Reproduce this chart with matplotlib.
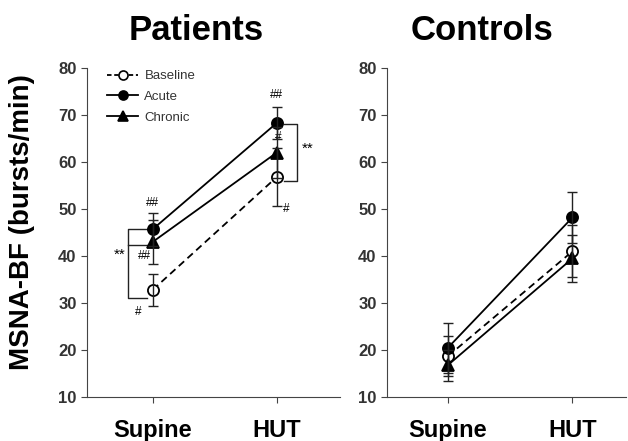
import numpy as np
import matplotlib
matplotlib.use("Agg")
import matplotlib.pyplot as plt
from matplotlib.lines import Line2D

plt.rcParams['font.family'] = ['Liberation Sans', 'DejaVu Sans']

conditions = ['Supine', 'HUT']
series = ['Baseline', 'Acute', 'Chronic']

# Patients
pat_mean = {'Baseline': [32.8, 56.8], 'Acute': [45.7, 68.3], 'Chronic': [43.0, 62.0]}
pat_err = {'Baseline': [3.4, 6.1], 'Acute': [3.5, 3.3], 'Chronic': [4.7, 5.5]}
# Controls
con_mean = {'Baseline': [18.7, 41.0], 'Acute': [20.5, 48.2], 'Chronic': [16.8, 39.5]}
con_err = {'Baseline': [4.3, 5.5], 'Acute': [5.3, 5.4], 'Chronic': [3.3, 5.0]}

styles = {
    'Baseline': dict(marker='o', mfc='white', ls='--'),
    'Acute': dict(marker='o', mfc='black', ls='-'),
    'Chronic': dict(marker='^', mfc='black', ls='-'),
}

fig = plt.figure(figsize=(6.28, 4.41), dpi=100)
ax1 = fig.add_axes([87/628, 1-397/441, (340-87)/628, (397-68)/441])
ax2 = fig.add_axes([387/628, 1-397/441, (626-387)/628, (397-68)/441])

x = np.array([1, 2])
for ax, means, errs, xl in [(ax1, pat_mean, pat_err, (0.47, 2.51)),
                            (ax2, con_mean, con_err, (0.51, 2.43))]:
    for s in series:
        st = styles[s]
        ln, = ax.plot(x, means[s], color='black', ls=st['ls'], marker=st['marker'],
                      mfc=st['mfc'], mec='black', ms=8, mew=1.3, lw=1.3, zorder=3)
        if st['ls'] == '--':
            ln.set_dashes((4, 2.5))
        ax.errorbar(x, means[s], yerr=errs[s], fmt='none', ecolor='#222222',
                    elinewidth=1, capsize=3.5, capthick=1, zorder=4)
    ax.set_xlim(*xl)
    ax.set_ylim(10, 80)
    ax.set_yticks(range(10, 81, 10))
    ax.set_xticks(x)
    ax.set_xticklabels(conditions, fontsize=17, fontweight='bold')
    ax.set_yticklabels([str(v) for v in range(10, 81, 10)], fontsize=12,
                       fontweight='bold', color='#333333')
    ax.tick_params(axis='y', length=4, direction='out', color='#444444')
    ax.tick_params(axis='x', length=4, direction='out', pad=12, color='#444444')
    for sp in ['top', 'right']:
        ax.spines[sp].set_visible(False)
    ax.spines['left'].set_color('#444444')
    ax.spines['bottom'].set_color('#444444')

fig.text(22/628, 1-222/441, 'MSNA-BF (bursts/min)', rotation=90, fontsize=20,
         fontweight='bold', ha='center', va='center')
fig.text(196/628, 1-40/441, 'Patients', fontsize=25, fontweight='bold',
         ha='center', va='baseline')
fig.text(482/628, 1-40/441, 'Controls', fontsize=25, fontweight='bold',
         ha='center', va='baseline')

handles = []
for s in series:
    st = styles[s]
    h = Line2D([], [], color='black', ls=st['ls'], marker=st['marker'], mfc=st['mfc'],
               mec='black', ms=6.5, mew=1.2, lw=1.3)
    if st['ls'] == '--':
        h.set_dashes((2.5, 1.5))
    handles.append(h)
leg = ax1.legend(handles, series, loc='upper left', frameon=False, fontsize=9.5,
                 handlelength=2.3, handletextpad=0.5, borderaxespad=0.0,
                 bbox_to_anchor=(0.06, 1.01), labelspacing=0.65)
for t in leg.get_texts():
    t.set_color('#333333')

# significance marks (patients)
fs = 8.5
ax1.text(1, 51.3, '##', ha='center', va='center', fontsize=fs)
ax1.text(2, 74.3, '##', ha='center', va='center', fontsize=fs)
ax1.text(2.01, 65.3, '#', ha='center', va='center', fontsize=fs)
ax1.text(2.08, 50.0, '#', ha='center', va='center', fontsize=fs)
ax1.text(0.93, 40.0, '##', ha='center', va='center', fontsize=fs)
ax1.text(0.88, 28.0, '#', ha='center', va='center', fontsize=fs)
ax1.text(0.73, 40.3, '**', ha='center', va='center', fontsize=11)
ax1.text(2.25, 62.8, '**', ha='center', va='center', fontsize=11)
# brackets
ax1.plot([0.95, 0.8, 0.8, 0.95], [45.8, 45.8, 31.0, 31.0], color='#222222', lw=1)
ax1.plot([0.8, 0.95], [42.4, 42.4], color='#222222', lw=1)
ax1.plot([2.06, 2.16, 2.16, 2.06], [68.0, 68.0, 56.0, 56.0], color='#222222', lw=1)

fig.savefig('out.png', dpi=100)
